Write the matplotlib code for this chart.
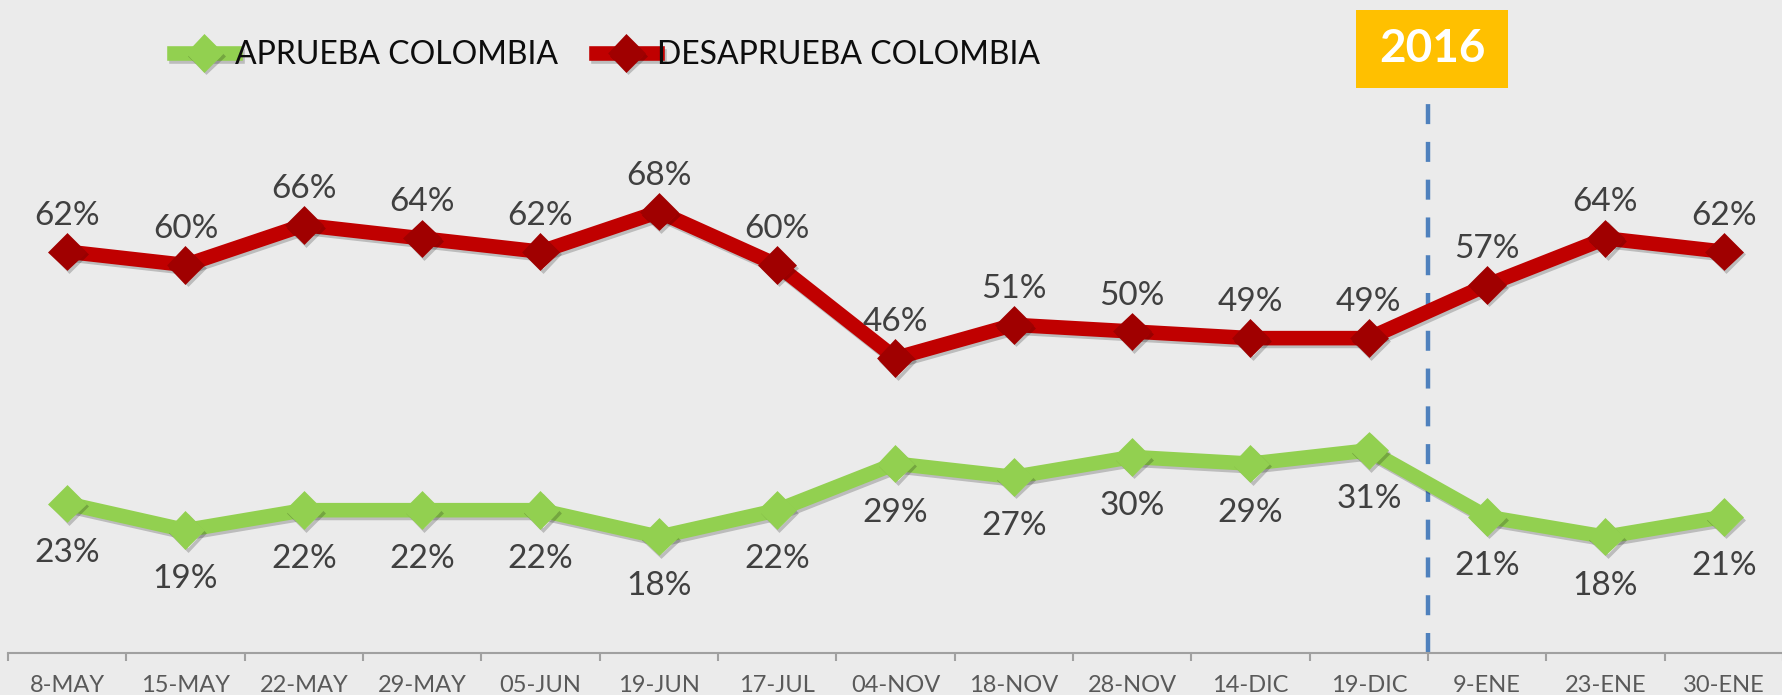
import matplotlib
matplotlib.use('Agg')
import matplotlib.pyplot as plt
import matplotlib.patheffects as pe
from matplotlib.patches import Rectangle

plt.rcParams['font.family'] = ['Lato', 'DejaVu Sans']

# ---------------------------------------------------------------
# Data
# ---------------------------------------------------------------
FECHAS = ['8-MAY', '15-MAY', '22-MAY', '29-MAY', '05-JUN', '19-JUN', '17-JUL',
          '04-NOV', '18-NOV', '28-NOV', '14-DIC', '19-DIC', '9-ENE', '23-ENE',
          '30-ENE']
APRUEBA = [23, 19, 22, 22, 22, 18, 22, 29, 27, 30, 29, 31, 21, 18, 21]
DESAPRUEBA = [62, 60, 66, 64, 62, 68, 60, 46, 51, 50, 49, 49, 57, 64, 62]
CORTE_2016 = 11.5          # between 19-DIC and 9-ENE
ANIO = '2016'

BG = '#EBEBEB'
VERDE = '#92D050'
ROJO = '#C00000'
ROJO_MK = '#A00000'
TXT = '#404040'

fig = plt.figure(figsize=(17.83, 6.95), dpi=100, facecolor=BG)
ax = fig.add_axes([8 / 1783, 42 / 695, 1 - 8 / 1783, 653 / 695])
ax2 = ax.twinx()
for a in (ax, ax2):
    a.set_facecolor(BG)
    for s in a.spines.values():
        s.set_visible(False)
ax2.patch.set_visible(False)
ax2.set_yticks([])
ax.set_yticks([])

shadow = [pe.SimpleLineShadow(offset=(1.5, -2), shadow_color='k', alpha=0.2),
          pe.Normal()]

x = list(range(len(FECHAS)))
l_rojo, = ax.plot(x, DESAPRUEBA, color=ROJO, lw=10.5, marker='D', ms=17,
                  mfc=ROJO_MK, mec=ROJO_MK, mew=2.5, solid_joinstyle='round',
                  label='DESAPRUEBA COLOMBIA', path_effects=shadow, zorder=3)
l_verde, = ax2.plot(x, APRUEBA, color=VERDE, lw=10.5, marker='D', ms=17,
                    mfc=VERDE, mec=VERDE, mew=2.5, solid_joinstyle='round',
                    label='APRUEBA COLOMBIA', path_effects=shadow, zorder=3)

ax.set_ylim(1.65, 99.85)
ax2.set_ylim(0.53, 98.7)
ax.set_xlim(-0.5, len(FECHAS) - 0.5)

for xi, v in zip(x, DESAPRUEBA):
    ax.annotate(f'{v}%', (xi, v), xytext=(0, 19.4), textcoords='offset points',
                ha='center', va='baseline', fontsize=24, color=TXT)
for xi, v in zip(x, APRUEBA):
    ax2.annotate(f'{v}%', (xi, v), xytext=(0, -41.8), textcoords='offset points',
                 ha='center', va='baseline', fontsize=24, color=TXT)

# x axis
ax.spines['bottom'].set_visible(True)
ax.spines['bottom'].set_color('#A0A0A0')
ax.spines['bottom'].set_linewidth(1.5)
ax.set_xticks(x)
ax.set_xticklabels(FECHAS, fontsize=17, color='#595959')
ax.set_xticks([i - 0.5 for i in range(len(FECHAS) + 1)], minor=True)
ax.tick_params(axis='x', which='major', length=0, pad=15.5)
ax.tick_params(axis='x', which='minor', length=5.8, width=1.5, color='#A0A0A0')

# 2016 marker
ax.axvline(CORTE_2016, ymin=0, ymax=(653 - 90) / 653, color='#4F81BD', lw=3.2,
           ls=(0, (4.5, 4)), zorder=2)
fig.patches.append(Rectangle((1356 / 1783, 1 - 88 / 695), 152 / 1783, 78 / 695,
                             transform=fig.transFigure, facecolor='#FFC000',
                             edgecolor='none'))
fig.text(1432 / 1783, 1 - 49 / 695, ANIO, ha='center', va='center',
         fontsize=33, fontweight='bold', color='white')

fig.legend(handles=[l_verde, l_rojo], loc='center left',
           bbox_to_anchor=(174 / 1783, 1 - 55 / 695), ncol=2, frameon=False,
           fontsize=23, handlelength=1.9, handletextpad=0.0,
           columnspacing=1.2, borderpad=0, borderaxespad=0,
           labelcolor='#0D0D0D')

fig.savefig('out.png', dpi=100, facecolor=BG)
